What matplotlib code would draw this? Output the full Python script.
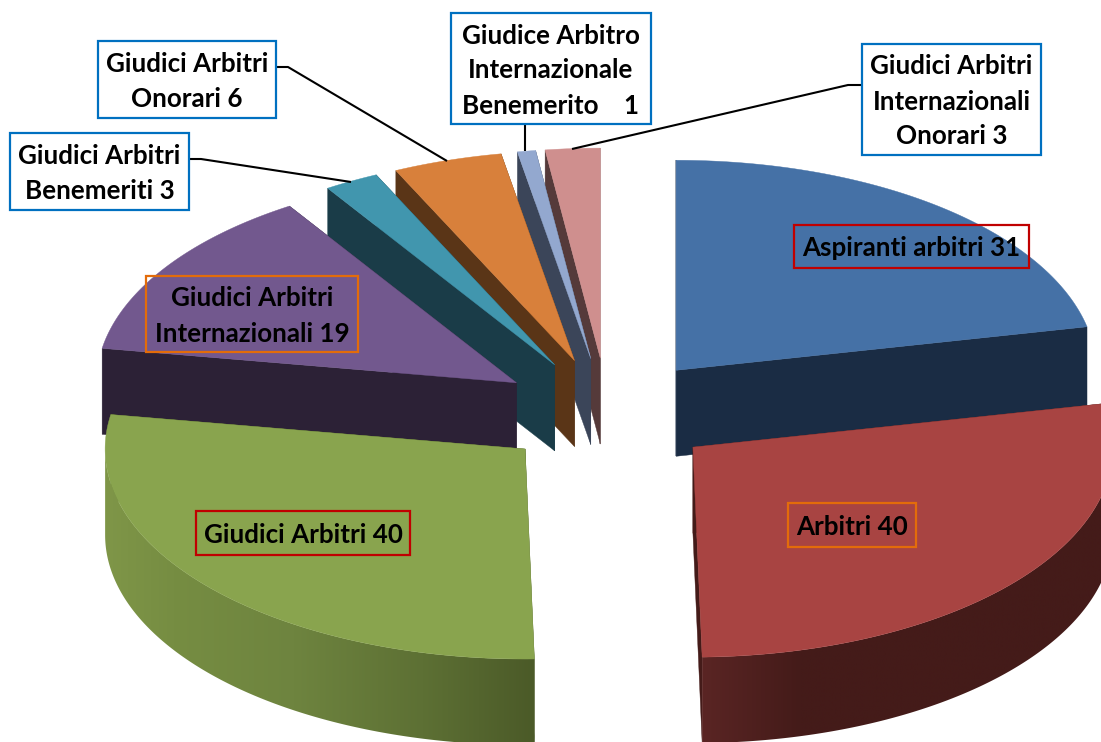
import numpy as np
import matplotlib
matplotlib.use("Agg")
import matplotlib.pyplot as plt
from matplotlib.patches import Polygon, Rectangle
from matplotlib.colors import to_rgb

# ---- data ----
categories = ["Aspiranti arbitri", "Arbitri", "Giudici Arbitri", "Giudici Arbitri Internazionali",
              "Giudici Arbitri Benemeriti", "Giudici Arbitri Onorari",
              "Giudice Arbitro Internazionale Benemerito", "Giudici Arbitri Internazionali Onorari"]
values = [31, 40, 40, 19, 3, 6, 1, 3]
labels = ["Aspiranti arbitri 31", "Arbitri 40", "Giudici Arbitri 40",
          "Giudici Arbitri\nInternazionali 19", "Giudici Arbitri\nBenemeriti 3",
          "Giudici Arbitri\nOnorari 6", "Giudice Arbitro\nInternazionale\nBenemerito    1",
          "Giudici Arbitri\nInternazionali\nOnorari 3"]

# ---- style ----
top_colors = ["#4571a6", "#a84442", "#89a44e", "#72588e", "#4196ae", "#d8803b", "#93a8cf", "#cf8f8e"]
side_colors = ["#1a2c44", "#441b19", "#4b5a28", "#2c2136", "#1a3c48", "#5a3517", "#3b4559", "#553a3a"]
# wall gradients, left-to-right across each wall
wall_stops = {1: [(0.0, "#5a2524"), (0.24, "#441b19"), (1.0, "#441b19")],
              2: [(0.0, "#7f9648"), (0.16, "#768d42"), (0.44, "#6e843f"), (0.74, "#5d7034"), (1.0, "#4b5a28")]}
BLUE, RED, ORANGE = "#0070c0", "#c00000", "#e36c0a"
box_edges = [RED, ORANGE, RED, ORANGE, BLUE, BLUE, BLUE, BLUE]
box_faces = ["none", "none", "none", "none", "white", "white", "white", "white"]
boxes = [(794, 225, 1029, 268), (788, 503, 916, 547), (196, 511, 410, 555), (146, 276, 358, 352),
         (10, 133, 189, 210), (98, 41, 276, 118), (451, 13, 651, 124), (862, 44, 1041, 155)]
leaders = {4: [(189, 159), (201, 159), (351, 182)],
           5: [(276, 67), (288, 67), (447, 161)],
           6: [(525, 124), (525, 151)],
           7: [(862, 85), (848, 85), (572, 149)]}

# ---- projection geometry (pixels) ----
CX, CY = 607.5, 413
A, B = 420, 210
EX, EY = 109, 55
DEPTH = 86

fig = plt.figure(figsize=(11.01, 7.42), dpi=100, facecolor="white")
ax = fig.add_axes([0, 0, 1, 1])

vals = np.array(values, dtype=float)
edges = np.concatenate([[0], np.cumsum(vals)]) / vals.sum() * 2 * np.pi
z = [1.0]


def next_z():
    z[0] += 0.01
    return z[0]


def draw_slice(i):
    t0, t1 = edges[i], edges[i + 1]
    mid = (t0 + t1) / 2
    ox = CX + EX * np.sin(mid)
    oy = CY - EY * np.cos(mid)
    ts = np.linspace(t0, t1, max(int((t1 - t0) * 180), 6))
    arc = np.column_stack([ox + A * np.sin(ts), oy - B * np.cos(ts)])
    down = np.array([0, DEPTH])
    apex = np.array([ox, oy])
    side = side_colors[i]
    # radial cut faces
    for p in (arc[0], arc[-1]):
        ax.add_patch(Polygon([apex, p, p + down, apex + down], closed=True, fc=side, ec=side, lw=0.3, zorder=next_z()))
    # outer wall, front half only
    front = (ts >= np.pi / 2) & (ts <= 3 * np.pi / 2)
    if front.sum() > 1:
        rim = arc[front]
        outline = np.vstack([rim, (rim + down)[::-1]])
        x0, x1 = rim[:, 0].min(), rim[:, 0].max()
        stops = wall_stops.get(i, [(0.0, side), (1.0, side)])
        pos = [s[0] for s in stops]
        rgb = np.array([to_rgb(s[1]) for s in stops])
        f = np.linspace(0, 1, 512)
        grad = np.stack([np.interp(f, pos, rgb[:, k]) for k in range(3)], axis=1)[None, :, :]
        zz = next_z()
        im = ax.imshow(grad, extent=[x0, x1, outline[:, 1].max(), outline[:, 1].min()],
                       aspect="auto", interpolation="bilinear", zorder=zz)
        clip = Polygon(outline, closed=True, transform=ax.transData, fc="none", ec="none")
        ax.add_patch(clip)
        im.set_clip_path(clip)
    # top surface
    ax.add_patch(Polygon(np.vstack([apex, arc]), closed=True, fc=top_colors[i], ec=top_colors[i], lw=0.3, zorder=next_z()))


# painter's order: back slices first, front ones last
for i in [7, 6, 5, 4, 3, 0, 2, 1]:
    draw_slice(i)

ax.set_xlim(0, 1101)
ax.set_ylim(742, 0)
ax.axis("off")

for i, pts in leaders.items():
    xs, ys = zip(*pts)
    ax.plot(xs, ys, color="black", lw=1.5, solid_capstyle="butt", zorder=5)

for label, (x0, y0, x1, y1), ec, fc in zip(labels, boxes, box_edges, box_faces):
    ax.add_patch(Rectangle((x0, y0), x1 - x0, y1 - y0, fc=fc, ec=ec, lw=1.6, zorder=6))
    ax.text((x0 + x1) / 2, (y0 + y1) / 2 + 2, label, ha="center", va="center", ma="center",
            family="Lato", weight="bold", fontsize=18.7, color="black", linespacing=1.55, zorder=7)

fig.savefig("out.png", dpi=100, facecolor="white")
